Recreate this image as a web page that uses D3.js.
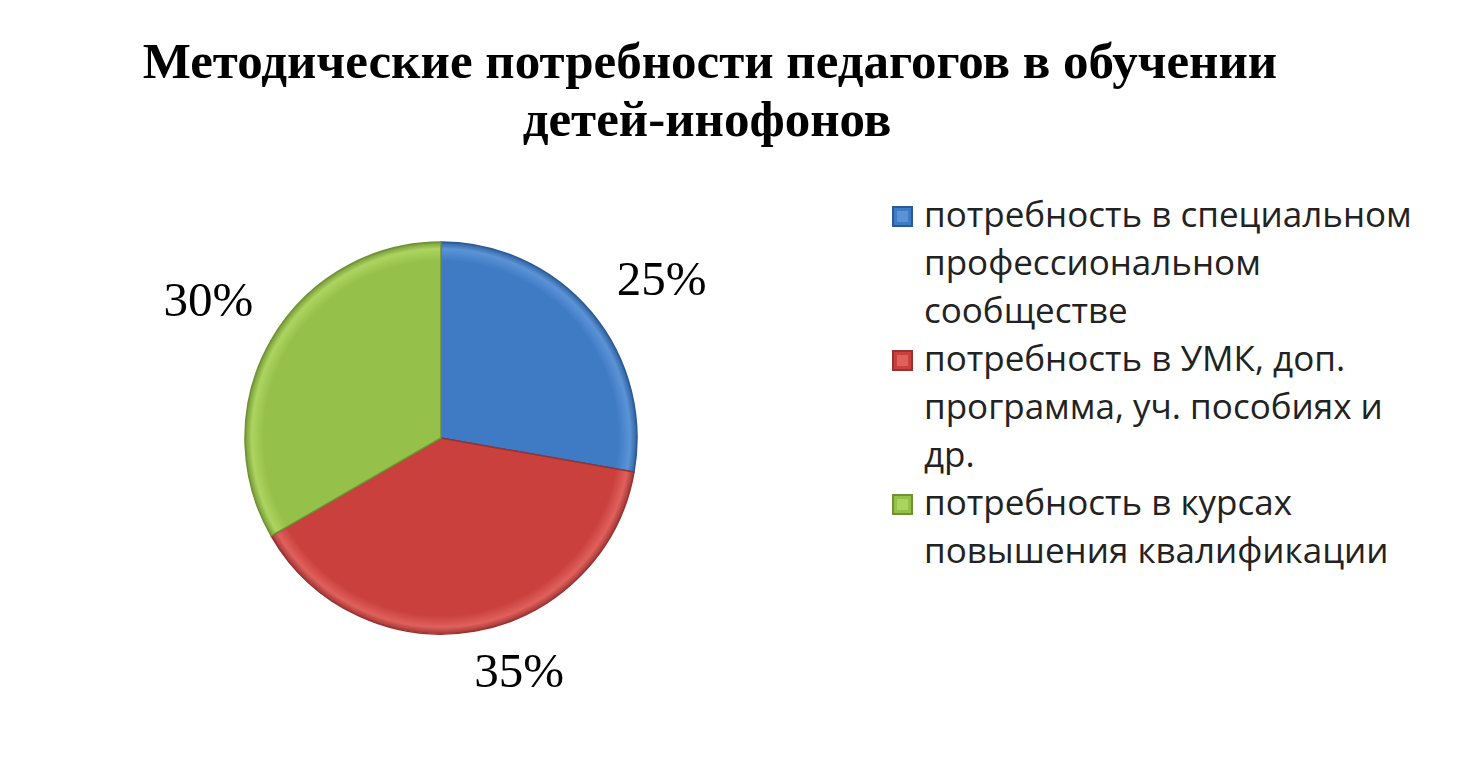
<!DOCTYPE html>
<html><head><meta charset="utf-8">
<script src="https://cdn.jsdelivr.net/npm/d3@7"></script>
<style>body{margin:0;background:#fff}</style>
</head><body>
<svg id="chart" width="1460" height="775"></svg>
<script>
var categories = ["потребность в специальном профессиональном сообществе",
                  "потребность в УМК, доп. программа, уч. пособиях и др.",
                  "потребность в курсах повышения квалификации"];
var values = [25, 35, 30];
var labels = ["25%", "35%", "30%"];
var legendLines = [["потребность в специальном", "профессиональном", "сообществе"],
                   ["потребность в УМК, доп.", "программа, уч. пособиях и", "др."],
                   ["потребность в курсах", "повышения квалификации"]];
var labelShift = [[30, 0], [35, -13], [-17, -15]];
var colors = ["#3f7bc4", "#c9403d", "#95c04a"];
var darks = ["#2a5a96", "#983130", "#6f9233"];
var lights = ["#5b93d6", "#e0605c", "#acd560"];

var svg = d3.select("#chart");
var defs = svg.append("defs");
colors.forEach(function (c, i) {
    var g = defs.append("radialGradient").attr("id", "g" + i)
        .attr("gradientUnits", "userSpaceOnUse").attr("cx", 0).attr("cy", 0).attr("r", 197);
    g.append("stop").attr("offset", "0%").attr("stop-color", c);
    g.append("stop").attr("offset", "90%").attr("stop-color", c);
    g.append("stop").attr("offset", "96%").attr("stop-color", lights[i]);
    g.append("stop").attr("offset", "100%").attr("stop-color", darks[i]);
});

svg.append("text").attr("x", 710).attr("y", 78).attr("text-anchor", "middle")
    .style("font", "bold 51px 'Liberation Serif'").text("Методические потребности педагогов в обучении");
svg.append("text").attr("x", 707).attr("y", 136).attr("text-anchor", "middle")
    .style("font", "bold 51px 'Liberation Serif'").text("детей-инофонов");

var cx = 441, cy = 438, r = 196;
var pie = d3.pie().sort(null)(values);
var arc = d3.arc().innerRadius(0).outerRadius(r);
var g = svg.append("g").attr("transform", "translate(" + cx + "," + cy + ")");
g.selectAll("path").data(pie).enter().append("path")
    .attr("d", arc).attr("fill", function (d, i) { return "url(#g" + i + ")"; })
    .attr("stroke", function (d, i) { return darks[i]; }).attr("stroke-width", 1.5);

var labelArc = d3.arc().innerRadius(r * 1.27).outerRadius(r * 1.27);
g.selectAll("text.lbl").data(pie).enter().append("text")
    .attr("transform", function (d, i) {
        var c = labelArc.centroid(d);
        return "translate(" + (c[0] + labelShift[i][0]) + "," + (c[1] + labelShift[i][1]) + ")";
    })
    .attr("text-anchor", "middle").attr("dy", "0.35em")
    .style("font", "49px 'Liberation Serif'")
    .text(function (d, i) { return labels[i]; });

var leg = svg.append("g");
var y = 215;
legendLines.forEach(function (lines, i) {
    leg.append("rect").attr("x", 893).attr("y", y - 8).attr("width", 19).attr("height", 19)
        .attr("fill", colors[i]).attr("stroke", darks[i]).attr("stroke-width", 2);
    leg.append("rect").attr("x", 897).attr("y", y - 4).attr("width", 11).attr("height", 11)
        .attr("fill", lights[i]);
    lines.forEach(function (t, j) {
        leg.append("text").attr("x", 924).attr("y", y + j * 48).attr("dy", "0.35em")
            .style("font", "35px 'Open Sans'").attr("fill", "#222").text(t);
    });
    y += lines.length * 48;
});
</script>
</body></html>
